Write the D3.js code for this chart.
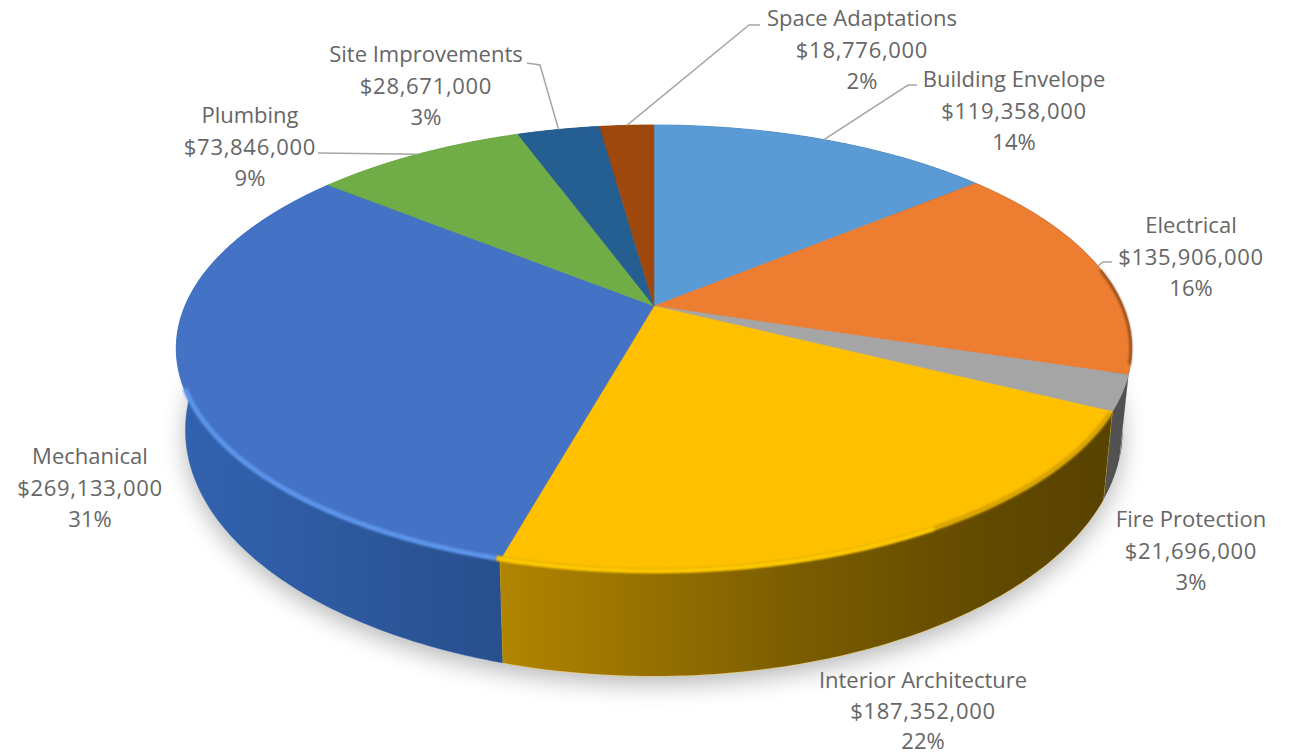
<!DOCTYPE html>
<html lang="en">
<head>
<meta charset="utf-8">
<title>Project cost by system</title>
<script src="https://cdnjs.cloudflare.com/ajax/libs/d3/7.8.5/d3.min.js"></script>
<style>
    html, body { margin: 0; background: #fff; }
    svg { display: block; }
    text { font-family: "Open Sans", sans-serif; font-size: 22px; fill: #666; text-anchor: middle; }
</style>
</head>
<body>
<svg width="1296" height="756"></svg>
<script>
var categories = ["Building Envelope", "Electrical", "Fire Protection", "Interior Architecture", "Mechanical", "Plumbing", "Site Improvements", "Space Adaptations"];
var costs = [119358000, 135906000, 21696000, 187352000, 269133000, 73846000, 28671000, 18776000];
var colors = ["#5b9bd5", "#ed7d31", "#a5a5a5", "#ffc000", "#4472c4", "#70ad47", "#255e91", "#9e480e"];
var wallColors = ["#5b9bd5", "#b8a89c", "#ececec", "#ffc000", "#3a72cc", "#70ad47", "#255e91", "#9e480e"];

// label centre x and first baseline, same order as categories
var labelX = [1014, 1191, 1191, 923, 90, 250, 426, 862];
var labelY = [87, 233, 527, 688, 464, 123, 62, 26];
// leader lines: elbow points from the label side, the end sits on the slice edge
var leaderPts = [
    [[917, 85], [908, 85]], [[1112, 262], [1103, 262]], null, null, null,
    [[318, 153]], [[527, 63], [540, 65]], [[760, 25], [749, 25]]
];
// bevel strokes along the rim: angle from, angle to (degrees), colour, width
var rims = [
    [80, 105, "#8a4a1c", 2.5],
    [117, 196, "#d9a400", 5],
    [150, 196, "#ffcb00", 4],
    [196, 249, "#5c94ea", 5]
];

var svg = d3.select("svg");

var cx = 654, persp = 0.19;
var top3d = {y: 306, r: 469, h: 215.4};
var bottom3d = {y: 383.4, r: 460, h: 237};
var rad = d3.scaleLinear().domain([0, 360]).range([0, 2 * Math.PI]);

// disc angle (0 = up, clockwise) to screen, with perspective
function project(a, disc) {
    var u = Math.sin(a), v = -Math.cos(a), d = 1 - persp * v;
    return [cx + disc.r * u / d, disc.y + disc.h * v / d];
}
function arcPts(a0, a1, disc) {
    var n = Math.max(2, Math.ceil((a1 - a0) / 0.01));
    return d3.range(n + 1).map(function(i) { return project(a0 + (a1 - a0) * i / n, disc); });
}

var line = d3.line();
var pie = d3.pie().sort(null).value(function(d) { return d; });
var slices = pie(costs);
var total = d3.sum(costs);
var money = d3.format("$,");
var pct = d3.format(".0%");

var defs = svg.append("defs");
defs.append("filter").attr("id", "soft").attr("x", "-20%").attr("y", "-20%").attr("width", "140%").attr("height", "140%")
    .append("feGaussianBlur").attr("stdDeviation", 12);
defs.append("filter").attr("id", "rim").attr("filterUnits", "userSpaceOnUse")
    .attr("x", 0).attr("y", 0).attr("width", 1296).attr("height", 756)
    .append("feGaussianBlur").attr("stdDeviation", 1.3);

var shade = defs.append("linearGradient").attr("id", "shade").attr("gradientUnits", "userSpaceOnUse")
    .attr("x1", 177).attr("x2", 1132).attr("y1", 0).attr("y2", 0);
[[0, 0.14], [0.33, 0.3], [0.65, 0.52], [0.85, 0.62], [1, 0.66]].forEach(function(s) {
    shade.append("stop").attr("offset", s[0]).attr("stop-color", "#000").attr("stop-opacity", s[1]);
});

// soft shadow under the disc
svg.append("path")
    .attr("d", line(arcPts(0, 2 * Math.PI, bottom3d)) + "Z")
    .attr("transform", "translate(0,8)")
    .attr("fill", "#000").attr("opacity", 0.28)
    .attr("filter", "url(#soft)");

// side walls, back to front
var order = slices.slice().sort(function(a, b) {
    return Math.cos(b.startAngle / 2 + b.endAngle / 2) - Math.cos(a.startAngle / 2 + a.endAngle / 2);
});
var walls = svg.append("g");
order.forEach(function(d) {
    var pts = arcPts(d.startAngle, d.endAngle, top3d).concat(arcPts(d.startAngle, d.endAngle, bottom3d).reverse());
    walls.append("path").attr("d", line(pts) + "Z").attr("fill", wallColors[d.index]).attr("stroke", wallColors[d.index]).attr("stroke-width", 0.5);
    walls.append("path").attr("d", line(pts) + "Z").attr("fill", "url(#shade)");
});

// top face
svg.append("g").selectAll("path")
    .data(slices)
    .enter().append("path")
    .attr("d", function(d) {
        return line([[cx, top3d.y]].concat(arcPts(d.startAngle, d.endAngle, top3d))) + "Z";
    })
    .attr("fill", function(d) { return colors[d.index]; })
    .attr("stroke", function(d) { return colors[d.index]; })
    .attr("stroke-width", 0.5);

// bevel along the front rim
svg.append("g").selectAll("path")
    .data(rims)
    .enter().append("path")
    .attr("d", function(d) {
        return line(arcPts(rad(d[0]), rad(d[1]), {y: top3d.y, r: top3d.r - 1, h: top3d.h - 1}));
    })
    .attr("fill", "none")
    .attr("stroke", function(d) { return d[2]; })
    .attr("stroke-width", function(d) { return d[3]; })
    .attr("filter", "url(#rim)");

// leader lines
svg.append("g").selectAll("path")
    .data(slices.filter(function(d) { return leaderPts[d.index]; }))
    .enter().append("path")
    .attr("d", function(d) {
        return line(leaderPts[d.index].concat([project((d.startAngle + d.endAngle) / 2, top3d)]));
    })
    .attr("fill", "none")
    .attr("stroke", "#a6a6a6")
    .attr("stroke-width", 1.5);

// labels
var labels = svg.append("g").selectAll("text")
    .data(categories)
    .enter().append("text")
    .attr("x", function(d, i) { return labelX[i]; })
    .attr("y", function(d, i) { return labelY[i]; });
labels.each(function(d, i) {
    var rows = [d, money(costs[i]), pct(costs[i] / total)];
    var gap = i == 3 ? 30.5 : 31.5;
    d3.select(this).selectAll("tspan").data(rows).enter().append("tspan")
        .attr("x", labelX[i])
        .attr("dy", function(r, j) { return j ? gap : 0; })
        .style("letter-spacing", function(r, j) { return j == 1 ? "0.7px" : null; })
        .text(function(r) { return r; });
});
</script>
</body>
</html>
